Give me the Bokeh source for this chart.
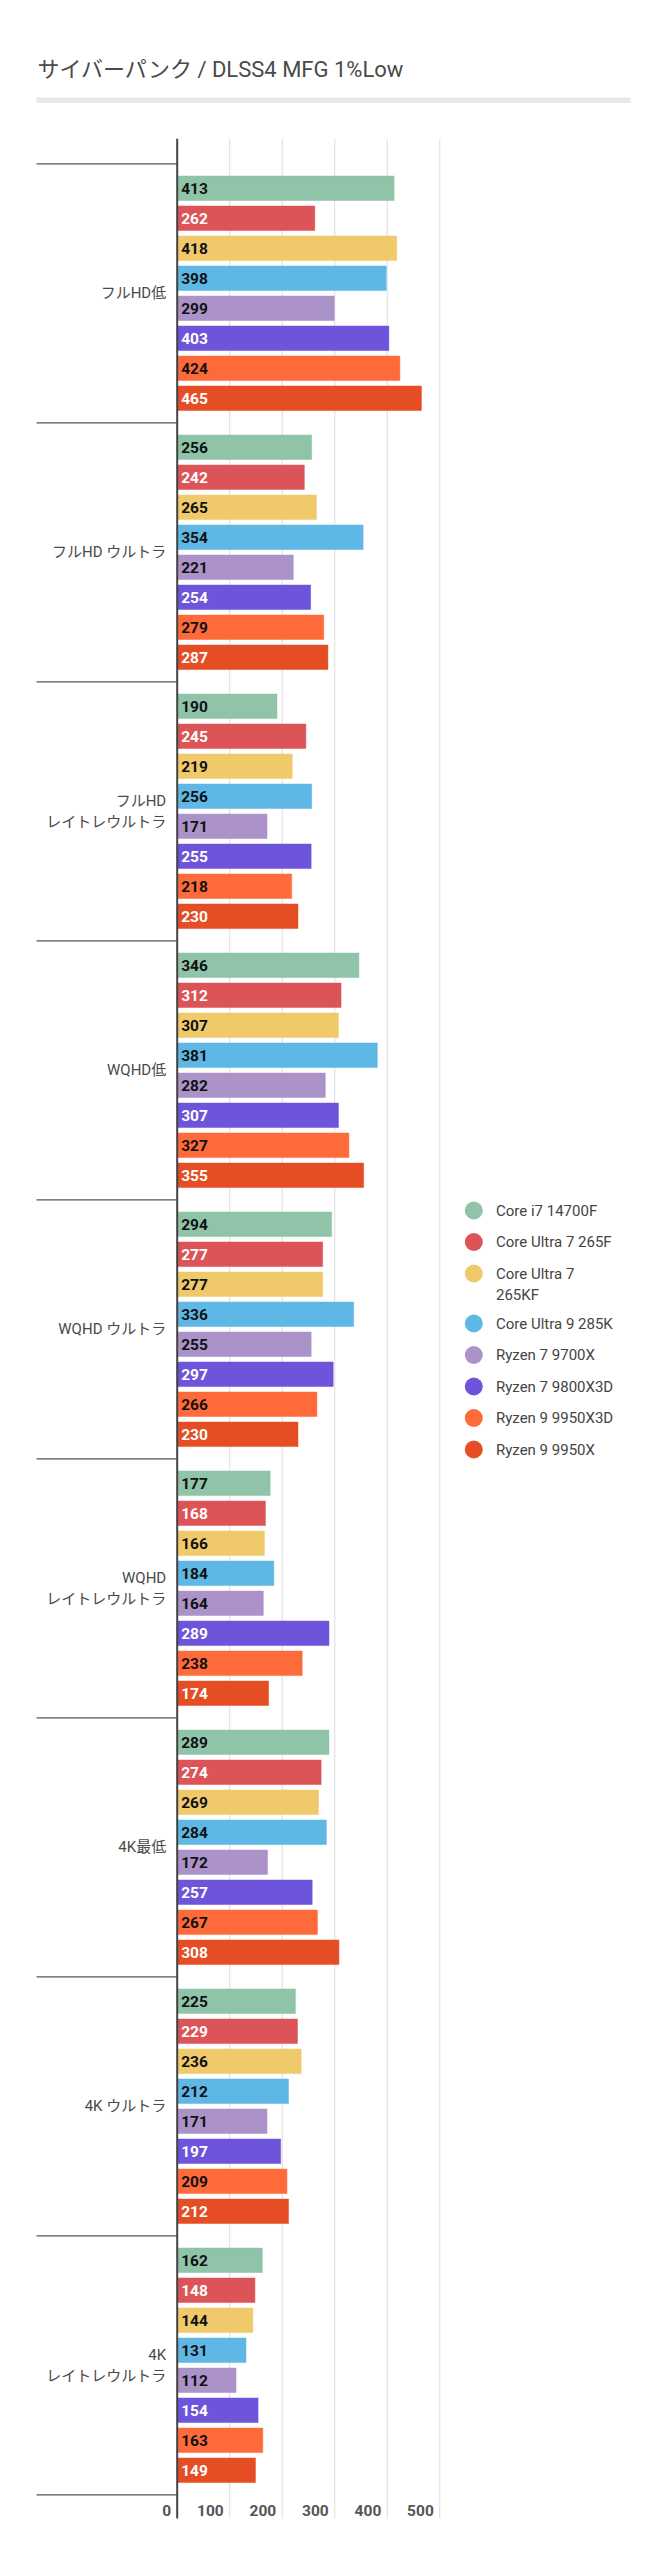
from bokeh.plotting import figure
from bokeh.models import ColumnDataSource, Range1d
from bokeh.core.properties import value
from bokeh.embed import file_html
from bokeh.resources import INLINE

# ---------------- data ----------------
title_text = "サイバーパンク /  DLSS4 MFG 1%Low"
categories = ["フルHD低", "フルHD ウルトラ", "フルHD\nレイトレウルトラ",
              "WQHD低", "WQHD ウルトラ", "WQHD\nレイトレウルトラ",
              "4K最低", "4K ウルトラ", "4K\nレイトレウルトラ"]
cpus = ["Core i7 14700F", "Core Ultra 7 265F", "Core Ultra 7 265KF",
        "Core Ultra 9 285K", "Ryzen 7 9700X", "Ryzen 7 9800X3D",
        "Ryzen 9 9950X3D", "Ryzen 9 9950X"]
i7_14700F  = [413, 256, 190, 346, 294, 177, 289, 225, 162]
u7_265F    = [262, 242, 245, 312, 277, 168, 274, 229, 148]
u7_265KF   = [418, 265, 219, 307, 277, 166, 269, 236, 144]
u9_285K    = [398, 354, 256, 381, 336, 184, 284, 212, 131]
r7_9700X   = [299, 221, 171, 282, 255, 164, 172, 171, 112]
r7_9800X3D = [403, 254, 255, 307, 297, 289, 257, 197, 154]
r9_9950X3D = [424, 279, 218, 327, 266, 238, 267, 209, 163]
r9_9950X   = [465, 287, 230, 355, 230, 174, 308, 212, 149]
series = [i7_14700F, u7_265F, u7_265KF, u9_285K, r7_9700X, r7_9800X3D, r9_9950X3D, r9_9950X]
tick_values = [0, 100, 200, 300, 400, 500]
tick_labels = ["0", "100", "200", "300", "400", "500"]

# ---------------- style ----------------
colors = ["#8fc4a8", "#dc5457", "#f0c96a", "#5eb7e4",
          "#ab92c8", "#6d54da", "#ff6a3a", "#e54e25"]
label_colors = ["#111111", "#ffffff", "#111111", "#111111",
                "#111111", "#ffffff", "#111111", "#ffffff"]
FONT = value("Roboto, 'Noto Sans CJK JP', sans-serif")
W, H = 663, 2560
MARGIN = 0
X0, PX_PER_UNIT = 176.7, 0.5252      # page px of value 0, px per value unit
Y0, CAT_PX = 163.3, 259.0            # page px of first category top, px per category
BAR_PITCH_PX, BAR_PX = 30.0, 24.5

def vx(px):
    return (px - X0) / PX_PER_UNIT

def uy(py):
    return (py - Y0) / CAT_PX

p = figure(width=W, height=H, output_backend="svg", toolbar_location=None,
           x_axis_location=None, y_axis_location=None,
           x_range=Range1d(vx(MARGIN), vx(MARGIN + W)),
           y_range=Range1d(uy(MARGIN + H), uy(MARGIN)),
           min_border=0, outline_line_color=None)
p.grid.visible = False

# title + grey rule
p.text(x=[vx(37)], y=[uy(69)], text=[title_text], text_font=FONT,
       text_font_size="22px", text_color="#4a4a4a",
       text_align="left", text_baseline="middle")
p.quad(left=[vx(36)], right=[vx(630)], top=[uy(97)], bottom=[uy(102.5)],
       fill_color="#e8e8e8", line_color=None)

# vertical grid lines and axis line
g_top, g_bot = uy(138.3), uy(2518)
grid_vals = [t for t in tick_values if t > 0]
p.segment(x0=grid_vals, x1=grid_vals, y0=[g_top] * len(grid_vals),
          y1=[g_bot] * len(grid_vals), line_color="#dddddd", line_width=1)

# category separators
seps = list(range(len(categories) + 1))
p.segment(x0=[vx(36)] * len(seps), x1=[0] * len(seps), y0=seps, y1=seps,
          line_color="#555555", line_width=1.3)

# bars
n = len(cpus)
pitch = BAR_PITCH_PX / CAT_PX
for j, (vals, col, lc) in enumerate(zip(series, colors, label_colors)):
    ys = [c + 0.5 + (j - (n - 1) / 2) * pitch for c in range(len(categories))]
    src = ColumnDataSource(dict(y=ys, right=vals, txt=[str(v) for v in vals]))
    p.hbar(y="y", left=0, right="right", height=BAR_PX / CAT_PX, source=src,
           fill_color=col, line_color=col, line_alpha=0.5)
    p.text(x=0, y="y", text="txt", source=src, x_offset=4, text_font=FONT,
           text_font_size="15.5px", text_font_style="bold", text_color=lc,
           text_align="left", text_baseline="middle")

p.segment(x0=[0], x1=[0], y0=[g_top], y1=[g_bot], line_color="#444444", line_width=2)

# category labels
p.text(x=[0] * len(categories), y=[c + 0.5 for c in range(len(categories))],
       text=categories, x_offset=-11, text_font=FONT, text_font_size="15px",
       text_color="#4a4a4a", text_align="right", text_baseline="middle",
       text_line_height=1.2)

# x tick labels
p.text(x=tick_values, y=[uy(2510)] * len(tick_values), text=tick_labels,
       x_offset=-6, text_font=FONT, text_font_size="15.5px", text_font_style="bold",
       text_color="#555555", text_align="right", text_baseline="middle")

# legend
def wrap(s, limit=17):
    if len(s) <= limit:
        return s
    k = s.rfind(" ", 0, limit)
    return s[:k] + "\n" + s[k + 1:]

leg_labels = [wrap(c) for c in cpus]
item_px, line_px = 31.5, 18.5
ly, cur = [], 1210.0
for lab in leg_labels:
    ly.append(uy(cur))
    cur += item_px + line_px * lab.count("\n")
p.scatter(x=[vx(473.3)] * n, y=ly, size=18, marker="circle",
          fill_color=colors, line_color=None)
p.text(x=[vx(495.5)] * n, y=ly, text=leg_labels, y_offset=-9, text_font=FONT,
       text_font_size="15px", text_color="#444444", text_align="left",
       text_baseline="top", text_line_height=1.2)

open("out.html", "w").write(file_html(p, INLINE))
